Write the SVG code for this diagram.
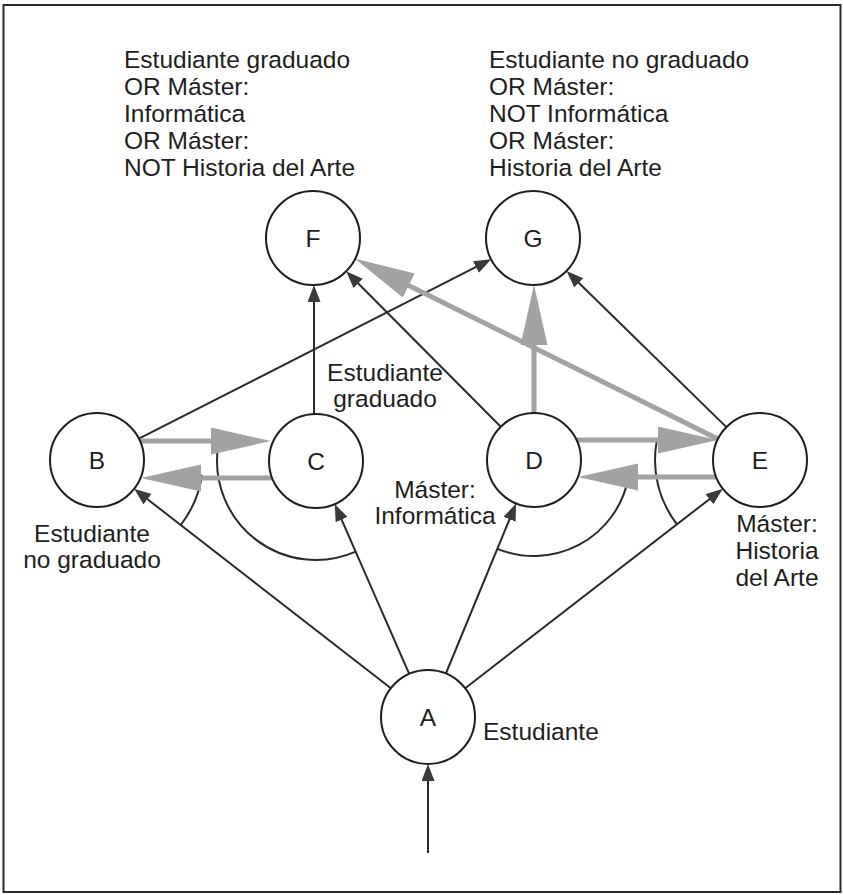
<svg xmlns="http://www.w3.org/2000/svg" width="843" height="895" viewBox="0 0 843 895">
<style>
text{font-family:"Liberation Sans",Arial,sans-serif;font-size:24.5px;fill:#1e1e1e}
.mid{text-anchor:middle}
.node circle{fill:#fff;stroke:#1e1e1e;stroke-width:2}
.blk{stroke:#2a2a2a;stroke-width:2;fill:none;marker-end:url(#ah)}
.arc{stroke:#2a2a2a;stroke-width:2;fill:none}
.gry{stroke:#a2a2a2;stroke-width:5;fill:none;marker-end:url(#gh)}
</style>
<defs>
<marker id="ah" markerUnits="userSpaceOnUse" markerWidth="18" markerHeight="14" refX="9" refY="6.5" orient="auto">
<path d="M0,0 L17,6.5 L0,13 z" fill="#3a3a3a"/>
</marker>
<marker id="gh" markerUnits="userSpaceOnUse" markerWidth="61" markerHeight="28" refX="30" refY="13.5" orient="auto">
<path d="M0,0 L60,13.5 L0,27 z" fill="#a2a2a2"/>
</marker>
</defs>
<rect x="3.5" y="5" width="837" height="887" fill="#fff" stroke="#2a2a2a" stroke-width="2"/>

<g id="labels">
<text x="124"><tspan x="124" y="68">Estudiante graduado</tspan><tspan x="124" y="95">OR Máster:</tspan><tspan x="124" y="122">Informática</tspan><tspan x="124" y="149">OR Máster:</tspan><tspan x="124" y="176">NOT Historia del Arte</tspan></text>
<text x="489"><tspan x="489" y="68">Estudiante no graduado</tspan><tspan x="489" y="95">OR Máster:</tspan><tspan x="489" y="122">NOT Informática</tspan><tspan x="489" y="149">OR Máster:</tspan><tspan x="489" y="176">Historia del Arte</tspan></text>
<text class="mid"><tspan x="385" y="381">Estudiante</tspan><tspan x="385" y="407">graduado</tspan></text>
<text class="mid"><tspan x="92" y="542">Estudiante</tspan><tspan x="92" y="568">no graduado</tspan></text>
<text class="mid"><tspan x="435" y="498">Máster:</tspan><tspan x="435" y="524">Informática</tspan></text>
<text class="mid"><tspan x="777" y="532">Máster:</tspan><tspan x="777" y="559">Historia</tspan><tspan x="777" y="586">del Arte</tspan></text>
<text x="483" y="740">Estudiante</text>
</g>

<g id="connectors">
<path class="arc" d="M180.7,525 A106,106 0 0,0 202,474.8"/>
<path class="arc" d="M355.7,551.7 A99,99 0 0,1 218,447.2"/>
<path class="arc" d="M497.4,548.8 A96,96 0 0,0 627.9,480"/>
<path class="arc" d="M677,524.3 A105,105 0 0,1 656.6,441.8"/>

<line class="blk" x1="390.9" y1="688.2" x2="140.4" y2="493.7"/>
<line class="blk" x1="409.2" y1="673.9" x2="338" y2="511.4"/>
<line class="blk" x1="445.9" y1="673.5" x2="513" y2="510.9"/>
<line class="blk" x1="465.2" y1="688.2" x2="716.5" y2="493.7"/>
<line class="blk" x1="428" y1="853" x2="428" y2="772"/>
<line class="blk" x1="314" y1="414" x2="314" y2="293"/>
<line class="blk" x1="500.8" y1="426.7" x2="351.8" y2="277"/>
<line class="blk" x1="138.9" y1="438.7" x2="484" y2="262.9"/>
<line class="blk" x1="726.4" y1="427.1" x2="572.3" y2="276.5"/>

<line class="gry" x1="140" y1="441" x2="241" y2="441"/>
<line class="gry" x1="272" y1="478" x2="171" y2="478"/>
<line class="gry" x1="576.5" y1="440" x2="687.5" y2="440"/>
<line class="gry" x1="716" y1="477" x2="608" y2="477"/>
<line class="gry" x1="534" y1="413" x2="534" y2="315"/>
<line class="gry" x1="717.9" y1="439.1" x2="382" y2="272.2"/>
</g>

<g id="node-A" class="node"><circle cx="428" cy="717" r="47"/><text class="mid" x="428" y="726">A</text></g>
<g id="node-B" class="node"><circle cx="97" cy="460" r="47"/><text class="mid" x="97" y="469">B</text></g>
<g id="node-C" class="node"><circle cx="316" cy="461" r="47"/><text class="mid" x="316" y="470">C</text></g>
<g id="node-D" class="node"><circle cx="534" cy="460" r="47"/><text class="mid" x="534" y="469">D</text></g>
<g id="node-E" class="node"><circle cx="760" cy="460" r="47"/><text class="mid" x="760" y="469">E</text></g>
<g id="node-F" class="node"><circle cx="313" cy="238" r="47"/><text class="mid" x="313" y="247">F</text></g>
<g id="node-G" class="node"><circle cx="533" cy="238" r="47"/><text class="mid" x="533" y="247">G</text></g>
</svg>
